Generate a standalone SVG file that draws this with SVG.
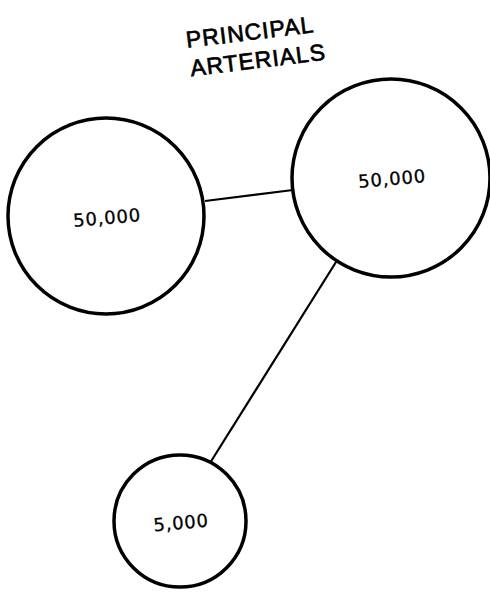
<svg xmlns="http://www.w3.org/2000/svg" width="490" height="594" viewBox="0 0 490 594">
<style>
.node{fill:none;stroke:#000;stroke-width:3.5}
.edge{stroke:#000;stroke-width:2.2;fill:none}
.lbl{font-family:"DejaVu Sans","Liberation Sans",sans-serif;font-size:18px;letter-spacing:0.8px;fill:#000;stroke:#000;stroke-width:0.3;text-anchor:middle}
.title{font-family:"Liberation Sans",Arial,sans-serif;font-size:23px;letter-spacing:1px;fill:#000;stroke:#000;stroke-width:0.7;text-anchor:middle}
</style>
<rect width="490" height="594" fill="#fff"/>
<g id="title">
<text class="title" x="250" y="40" transform="rotate(-7 250 32)">PRINCIPAL</text>
<text class="title" x="258" y="68" transform="rotate(-7 258 60)">ARTERIALS</text>
</g>
<g id="connectors">
<line class="edge" x1="205" y1="201" x2="293" y2="190"/>
<line class="edge" x1="336" y1="262" x2="210" y2="463"/>
</g>
<g id="node-left">
<circle class="node" cx="106" cy="216" r="98"/>
<text class="lbl" x="107" y="224" transform="rotate(-5 107 217)">50,000</text>
</g>
<g id="node-right">
<circle class="node" cx="391" cy="178" r="99"/>
<text class="lbl" x="392" y="185" transform="rotate(-5 392 178)">50,000</text>
</g>
<g id="node-bottom">
<circle class="node" cx="180" cy="521" r="66"/>
<text class="lbl" x="181" y="529" transform="rotate(-5 181 522)">5,000</text>
</g>
</svg>
